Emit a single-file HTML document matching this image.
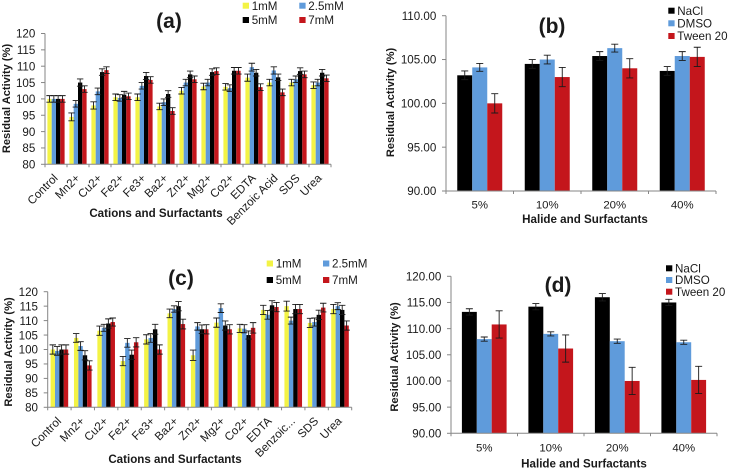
<!DOCTYPE html>
<html>
<head>
<meta charset="utf-8">
<title>Residual activity charts</title>
<style>
html,body{margin:0;padding:0;background:#fff;width:729px;height:469px;overflow:hidden}
svg{display:block;font-family:"Liberation Sans",sans-serif;filter:blur(0.3px)}
</style>
</head>
<body>
<svg id="fig" width="729" height="469" viewBox="0 0 729 469" xmlns="http://www.w3.org/2000/svg"></svg>
<script>
// Panel (a)
const catsA = ['Control','Mn2+','Cu2+','Fe2+','Fe3+','Ba2+','Zn2+','Mg2+','Co2+','EDTA','Benzoic Acid','SDS','Urea'];
const a1mM = [100,94.5,98,100.5,100.5,97.7,102.5,103.8,103.7,106.5,105,105,104.2];
const a25mM = [100,98.5,102.3,100.3,104,99,105,105,103.3,109.7,108.7,106,105];
const a5mM = [100,105,108.2,101.3,107,101.5,107.5,108.2,108.6,108,106.6,108.5,108];
const a7mM = [100,103,108.8,100.8,105.8,96.3,106,108.5,108.6,103.6,102,107.5,106.3];
const aErr1 = [1,1.2,1.1,1,1,1,1,1,1,1.1,1,1,1];
const aErr25 = [1,1,1,1,1,1,1,1,1,1.2,1.1,1,1];
const aErr5 = [1,1.1,1,1,1.1,1,1,1,1,1,1,1,1];
const aErr7 = [1,1,1,1,1,1,1,1,1,1,1,1,1];
const ticksA = [80,85,90,95,100,105,110,115,120];

// Panel (c)
const catsC = ['Control','Mn2+','Cu2+','Fe2+','Fe3+','Ba2+','Zn2+','Mg2+','Co2+','EDTA','Benzoic...','SDS','Urea'];
const c1mM = [100,104,106.5,96,103.5,112.5,98,109.3,107.3,113.7,115,109.2,114];
const c25mM = [99.5,101.2,107.5,102.3,104,114,108,114.3,107.2,112,110,109.5,115];
const c5mM = [100,98,109,98.2,107,115,107,108.3,105,115.3,114,112,113.7];
const c7mM = [100,94.5,109.5,102.5,100,108.8,107,107,107.5,114.7,114,114.5,108.3];
const cErr1 = [1.6,1.5,1.6,1.6,1.6,1.5,1.8,1.6,1.4,1.6,1.7,1.6,1.6];
const cErr25 = [1.5,1.5,1.2,1.5,1.5,1.1,1.3,1.5,1.4,1.5,1.2,1.4,1.2];
const cErr5 = [1.6,1.6,1.6,1.6,1.7,1.6,1.5,1.6,1.4,1.6,1.6,1.6,1.6];
const cErr7 = [1.6,1.6,1.4,1.6,1.6,1.7,1.6,1.6,1.8,1.6,1.6,1.5,1.6];
const ticksC = [80,85,90,95,100,105,110,115,120];

// Panel (b)
const catsB = ['5%','10%','20%','40%'];
const bNaCl = [103.2,104.5,105.4,103.7];
const bDMSO = [104.1,105,106.3,105.4];
const bTween = [100,103,104,105.3];
const bErrNaCl = [0.5,0.5,0.5,0.5];
const bErrDMSO = [0.45,0.5,0.45,0.5];
const bErrTween = [1.1,1.1,1.1,1.1];
const ticksB = ['90.00','95.00','100.00','105.00','110.00'];

// Panel (d)
const catsD = ['5%','10%','20%','40%'];
const dNaCl = [113.2,114.2,116,115];
const dDMSO = [108,109,107.6,107.4];
const dTween = [110.8,106.2,100,100.2];
const dErrNaCl = [0.6,0.6,0.7,0.6];
const dErrDMSO = [0.4,0.4,0.4,0.4];
const dErrTween = [2.6,2.6,2.6,2.6];
const ticksD = ['90.00','95.00','100.00','105.00','110.00','115.00','120.00'];

const YELLOW = '#f3f345', BLUE = '#5f9bdb', BLACK = '#000000', RED = '#c4161c', AXIS = '#868686', INK = '#1a1a1a';
const NS = 'http://www.w3.org/2000/svg';
const fig = document.getElementById('fig');

function mk(tag, attrs, parent, txt) {
  const e = document.createElementNS(NS, tag);
  for (const k in attrs) e.setAttribute(k, attrs[k]);
  if (txt !== undefined) e.textContent = txt;
  (parent || fig).appendChild(e);
  return e;
}

function panel(p) {
  const g = mk('g', {}, fig);
  
  

  const vals = p.ticks.map(Number);
  const yMin = Math.min.apply(null, vals), yMax = Math.max.apply(null, vals);
  const yScale = v => p.y0 - (v - yMin) / (yMax - yMin) * (p.y0 - p.y1);
  const band = (p.x1 - p.x0) / p.cats.length;
  const xScale = (i, s) => p.x0 + band * (i + 0.5) + (s - p.series.length / 2) * p.barW;

  // bars
  p.series.forEach((s, si) => {
    s.values.forEach((v, i) => {
      const bar = mk('rect', {x: xScale(i, si), y: yScale(v), width: p.barW, height: p.y0 - yScale(v), fill: s.color}, g);
      
      
    });
  });
  // error bars
  p.series.forEach((s, si) => {
    s.errs.forEach((er, i) => {
      const cx = xScale(i, si) + p.barW / 2, v = s.values[i];
      const hi = yScale(v + er), lo = yScale(v - er);
      const eb = mk('path', {d: 'M' + cx + ' ' + hi + 'V' + lo + 'M' + (cx - p.cap) + ' ' + hi + 'H' + (cx + p.cap) + 'M' + (cx - p.cap) + ' ' + lo + 'H' + (cx + p.cap), stroke: INK, 'stroke-width': 0.9, fill: 'none'}, g);
      
      
    });
  });
  // axes
  const ya = mk('line', {x1: p.x0, x2: p.x0, y1: p.y1, y2: p.y0, stroke: AXIS, 'stroke-width': 1}, g);
  
  
  const xa = mk('line', {x1: p.x0, x2: p.x1, y1: p.y0, y2: p.y0, stroke: AXIS, 'stroke-width': 1}, g);
  
  

  p.ticks.forEach((t, i) => {
    const y = yScale(vals[i]);
    mk('line', {x1: p.x0 - 4, x2: p.x0, y1: y, y2: y, stroke: AXIS}, g);
    const lab = mk('text', {x: p.x0 - 9.7, y: y + 4.2, 'text-anchor': 'end', 'font-size': 11.6, fill: INK}, g, t);
    
    
  });
  for (let i = 0; i <= p.cats.length; i++) {
    const x = p.x0 + band * i;
    mk('line', {x1: x, x2: x, y1: p.y0, y2: p.y0 + 3, stroke: AXIS}, g);
  }
  p.cats.forEach((c, i) => {
    const x = p.x0 + band * (i + 0.5);
    let lab;
    if (p.rotate) {
      const ax = x + 2.5, ay = p.y0 + 14.5;
      lab = mk('text', {x: ax, y: ay, 'text-anchor': 'end', 'font-size': 11.6, fill: INK, transform: 'rotate(-45 ' + ax + ' ' + ay + ')'}, g, c);
    } else {
      lab = mk('text', {x: x, y: p.catY, 'text-anchor': 'middle', 'font-size': 11.4, fill: INK}, g, c);
    }
    
    
  });

  const xt = mk('text', {x: p.xTitle[0], y: p.xTitle[1], 'text-anchor': 'middle', 'font-size': 11.6, 'font-weight': 'bold', fill: INK}, g, p.xLabel);
  
  
  const yt = mk('text', {x: 0, y: 0, 'text-anchor': 'middle', 'font-size': 11.1, 'font-weight': 'bold', fill: INK, transform: 'translate(' + p.yTitle[0] + ' ' + p.yTitle[1] + ') rotate(-90)'}, g, 'Residual Activity (%)');
  
  
  const tt = mk('text', {x: p.title[0], y: p.title[1], 'text-anchor': 'middle', 'font-size': 21, 'font-weight': 'bold', fill: INK}, g, '(' + p.id + ')');
  
  

  // legend
  p.series.forEach((s, si) => {
    const pos = p.legend[si];
    const sw = mk('rect', {x: pos[0], y: pos[1] - 3, width: 6.3, height: 6, fill: s.color}, g);
    
    
    const lt = mk('text', {x: pos[0] + 9, y: pos[1] + 4.2, 'font-size': 11.6, fill: INK}, g, s.label);
    
    
  });
}

panel({id: 'a', cats: catsA, ticks: ticksA, x0: 45, x1: 331, y0: 164.3, y1: 33.5, barW: 4.3, cap: 3.2, rotate: true,
  xLabel: 'Cations and Surfactants', xTitle: [156, 217], yTitle: [10, 98.5], title: [169, 28],
  legend: [[242.7, 5.7], [299.3, 5.7], [242.7, 20], [299.3, 20]],
  series: [
    {name: '1mM', label: '1mM', color: YELLOW, values: a1mM, errs: aErr1},
    {name: '2-5mM', label: '2.5mM', color: BLUE, values: a25mM, errs: aErr25},
    {name: '5mM', label: '5mM', color: BLACK, values: a5mM, errs: aErr5},
    {name: '7mM', label: '7mM', color: RED, values: a7mM, errs: aErr7}
  ]});

panel({id: 'c', cats: catsC, ticks: ticksC, x0: 47.7, x1: 351.7, y0: 407.3, y1: 291.7, barW: 4.4, cap: 3.2, rotate: true,
  xLabel: 'Cations and Surfactants', xTitle: [175, 463], yTitle: [12, 352], title: [181, 285],
  legend: [[266.7, 263.5], [323, 263.5], [266.7, 280], [323, 280]],
  series: [
    {name: '1mM', label: '1mM', color: YELLOW, values: c1mM, errs: cErr1},
    {name: '2-5mM', label: '2.5mM', color: BLUE, values: c25mM, errs: cErr25},
    {name: '5mM', label: '5mM', color: BLACK, values: c5mM, errs: cErr5},
    {name: '7mM', label: '7mM', color: RED, values: c7mM, errs: cErr7}
  ]});

panel({id: 'b', cats: catsB, ticks: ticksB, x0: 446, x1: 716, y0: 191, y1: 15.7, barW: 15, cap: 3.5, rotate: false, catY: 208.5,
  xLabel: 'Halide and Surfactants', xTitle: [585, 223], yTitle: [394, 102.5], title: [552, 33],
  legend: [[668.3, 10.7], [668.3, 23.3], [668.3, 36]],
  series: [
    {name: 'nacl', label: 'NaCl', color: BLACK, values: bNaCl, errs: bErrNaCl},
    {name: 'dmso', label: 'DMSO', color: BLUE, values: bDMSO, errs: bErrDMSO},
    {name: 'tween-20', label: 'Tween 20', color: RED, values: bTween, errs: bErrTween}
  ]});

panel({id: 'd', cats: catsD, ticks: ticksD, x0: 451, x1: 717, y0: 433.3, y1: 276.3, barW: 14.9, cap: 3.5, rotate: false, catY: 451.5,
  xLabel: 'Halide and Surfactants', xTitle: [584, 467.5], yTitle: [398, 357], title: [558, 292],
  legend: [[666, 268.3], [666, 280], [666, 291.7]],
  series: [
    {name: 'nacl', label: 'NaCl', color: BLACK, values: dNaCl, errs: dErrNaCl},
    {name: 'dmso', label: 'DMSO', color: BLUE, values: dDMSO, errs: dErrDMSO},
    {name: 'tween-20', label: 'Tween 20', color: RED, values: dTween, errs: dErrTween}
  ]});
</script>
</body>
</html>
